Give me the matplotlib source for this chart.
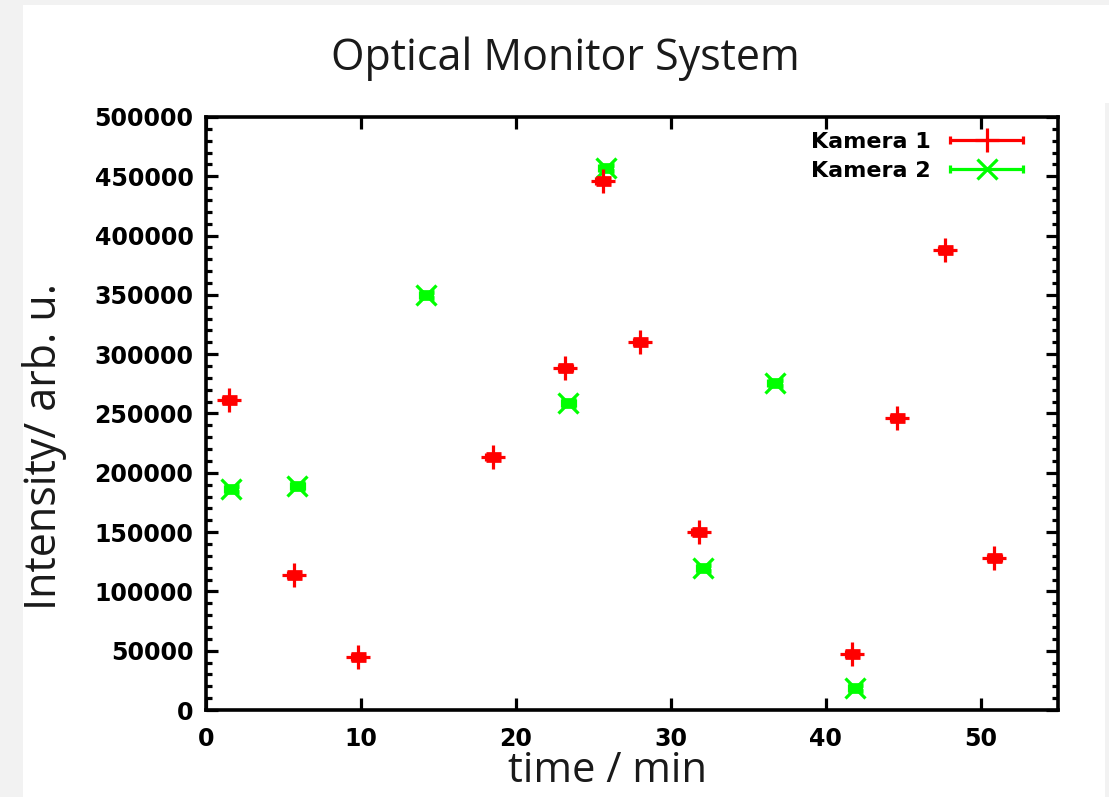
import matplotlib
matplotlib.use("Agg")
import matplotlib.pyplot as plt
from matplotlib.patches import Rectangle
from matplotlib.container import ErrorbarContainer
from matplotlib.legend_handler import HandlerErrorbar
from matplotlib.ticker import MultipleLocator

# Measurements: time in minutes, intensity in arbitrary units
cam1_time = [1.5, 5.7, 9.8, 18.5, 23.2, 25.6, 28.0, 31.8, 41.7, 44.6, 47.7, 50.9]
cam1_int = [261500, 114000, 45000, 213500, 288500, 446000, 310500, 150000, 47500, 246500, 388000, 128500]

cam2_time = [1.6, 5.9, 14.2, 23.4, 25.8, 32.1, 36.7, 41.9]
cam2_int = [186500, 189000, 350000, 259000, 457000, 119500, 276000, 18500]

time_err = 0.4
int_err = 2600

series_labels = ["Kamera 1", "Kamera 2"]
title_text = "Optical Monitor System"
xlabel_text = "time / min"
ylabel_text = "Intensity/ arb. u."

W, H = 1109, 797
fig = plt.figure(figsize=(W / 100, H / 100), dpi=100)
fig.patch.set_facecolor("#f2f2f2")
fig.patches.append(Rectangle((23 / W, 0), 1 - 23 / W, 1 - 5 / H, transform=fig.transFigure,
                             facecolor="white", edgecolor="none", zorder=-10))
fig.patches.append(Rectangle((1105 / W, 0), 4 / W, 1 - 103 / H, transform=fig.transFigure,
                             facecolor="#f2f2f2", edgecolor="none", zorder=-9))

ax = fig.add_axes([206 / W, 1 - 710 / H, (1058 - 206) / W, (710 - 117) / H])
ax.set_facecolor("white")

lw = 2.3


def draw_series(t, y, color, marker, msize, label, z):
    # vertical error bars with wide caps, horizontal ones with short caps plus the point symbol
    ax.errorbar(t, y, yerr=int_err, fmt="none", ecolor=color, elinewidth=lw,
                capsize=5.4, capthick=3.4, zorder=z)
    return ax.errorbar(t, y, xerr=time_err, fmt=marker, color=color, markersize=msize,
                       markeredgewidth=lw, elinewidth=lw, capsize=3.2, capthick=3.4,
                       label=label, zorder=z)


e1 = draw_series(cam1_time, cam1_int, "#ff0000", "+", 17, series_labels[0], 3)
e2 = draw_series(cam2_time, cam2_int, "#00ff00", "x", 15, series_labels[1], 2)

ax.set_xlim(0, 55)
ax.set_ylim(0, 500000)
ax.xaxis.set_major_locator(MultipleLocator(10))
ax.yaxis.set_major_locator(MultipleLocator(50000))
ax.yaxis.set_minor_locator(MultipleLocator(10000))

for s in ax.spines.values():
    s.set_linewidth(2.6)
ax.tick_params(axis="both", which="both", direction="in", width=2.3,
               top=True, right=True, labelsize=17, colors="black")
ax.tick_params(axis="both", which="major", length=8.5)
ax.tick_params(axis="y", which="minor", length=4.5)
ax.tick_params(axis="y", which="major", pad=9)
ax.tick_params(axis="x", which="major", pad=12)
for lab in ax.get_xticklabels() + ax.get_yticklabels():
    lab.set_fontweight("bold")
    lab.set_family("DejaVu Sans")

fs_leg = 16
fs_px = fs_leg * 100 / 72
leg = ax.legend(handles=[e1, e2], loc="upper right",
                bbox_to_anchor=((1023 - 206) / 852, (710 - 132) / 593),
                frameon=False, markerfirst=False, borderpad=0, borderaxespad=0,
                handlelength=73 / fs_px, handletextpad=0.85, labelspacing=0.4,
                prop={"family": "DejaVu Sans", "weight": "bold", "size": fs_leg},
                handler_map={ErrorbarContainer: HandlerErrorbar(xerr_size=0.5 * 73 / fs_px)})

fig.text(565 / W, 1 - 59 / H, title_text, ha="center", va="center",
         fontsize=31, family="Open Sans", color="#1a1a1a")
fig.text(607 / W, 1 - 771 / H, xlabel_text, ha="center", va="center",
         fontsize=30, family="Open Sans", color="#1a1a1a")
fig.text(45 / W, 1 - 447 / H, ylabel_text, ha="center", va="center", rotation=90,
         fontsize=31, family="Open Sans", color="#1a1a1a")

fig.savefig("out.png", dpi=100, facecolor=fig.get_facecolor())
